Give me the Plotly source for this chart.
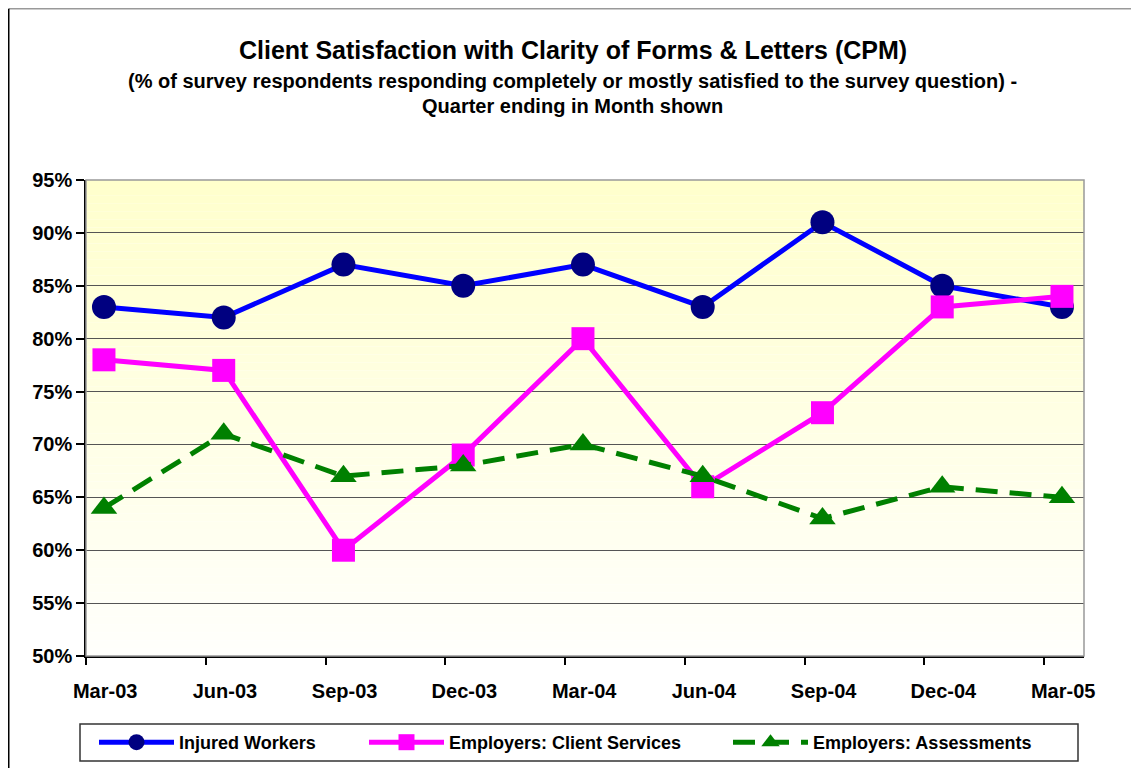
import plotly.graph_objects as go

categories = ["Mar-03", "Jun-03", "Sep-03", "Dec-03", "Mar-04", "Jun-04", "Sep-04", "Dec-04", "Mar-05"]
injured_workers = [83, 82, 87, 85, 87, 83, 91, 85, 83]
client_services = [78, 77, 60, 69, 80, 66, 73, 83, 84]
assessments = [64, 71, 67, 68, 70, 67, 63, 66, 65]
y_ticks = [50, 55, 60, 65, 70, 75, 80, 85, 90, 95]

FONT = "Liberation Sans, Arial, sans-serif"
idx = list(range(len(categories)))
xpos = [i + 0.15 for i in idx]

# figure geometry (page has an 8px body margin)
W, H = 1131, 760
ML, MR, MT, MB = 78, 55, 172, 112
PW, PH = W - ML - MR, H - MT - MB


def px(fx):
    return (fx - ML) / PW


def py(fy):
    return (H - MB - fy) / PH


fig = go.Figure()
fig.add_trace(go.Scatter(
    x=xpos, y=injured_workers, name="Injured Workers", mode="lines+markers",
    line=dict(color="#0000FF", width=5),
    marker=dict(symbol="circle", size=24, color="#000080"),
    legend="legend",
))
fig.add_trace(go.Scatter(
    x=xpos, y=client_services, name="Employers: Client Services", mode="lines+markers",
    line=dict(color="#FF00FF", width=5),
    marker=dict(symbol="square", size=23, color="#FF00FF"),
    legend="legend2",
))
fig.add_trace(go.Scatter(
    x=xpos, y=assessments, name="Employers: Assessments", mode="lines+markers",
    line=dict(color="#008000", width=5, dash="22px,12px"),
    marker=dict(symbol="triangle-up", size=23, color="#008000"),
    legend="legend3",
))

shapes = []
N = 60
top = (255, 255, 204)
bot = (255, 255, 252)
for k in range(N):
    t = (k + 0.5) / N
    c = tuple(round(top[j] + (bot[j] - top[j]) * t) for j in range(3))
    shapes.append(dict(type="rect", xref="x domain", yref="y domain",
                       x0=0, x1=1, y0=1 - (k + 1) / N, y1=1 - k / N,
                       fillcolor="rgb(%d,%d,%d)" % c, line=dict(width=0), layer="below"))
shapes.append(dict(type="rect", xref="x domain", yref="y domain", x0=0, x1=1, y0=0, y1=1,
                   line=dict(color="#999999", width=1.5), layer="above"))
# outer chart border
shapes.append(dict(type="line", xref="paper", yref="paper", x0=px(0.75), x1=px(1130), y0=py(0.75), y1=py(0.75),
                   line=dict(color="#999999", width=1.5)))
shapes.append(dict(type="line", xref="paper", yref="paper", x0=px(0.75), x1=px(0.75), y0=py(0.75), y1=py(H),
                   line=dict(color="black", width=1.5)))
shapes.append(dict(type="line", xref="paper", yref="paper", x0=px(1130), x1=px(1130), y0=py(0), y1=py(H),
                   line=dict(color="black", width=2)))
# legend box
shapes.append(dict(type="rect", xref="paper", yref="paper", x0=px(72), x1=px(1070), y0=py(753), y1=py(716),
                   line=dict(color="#333333", width=1.5), fillcolor="white", layer="above"))

tx = px(564.5)
annotations = [
    dict(text="<b>Client Satisfaction with Clarity of Forms & Letters (CPM)</b>",
         xref="paper", yref="paper", x=tx, y=py(42), yanchor="middle",
         showarrow=False, font=dict(size=25, family=FONT, color="black")),
    dict(text="<b>(% of survey respondents responding completely or mostly satisfied to the survey question) -</b>",
         xref="paper", yref="paper", x=tx, y=py(73), yanchor="middle",
         showarrow=False, font=dict(size=20, family=FONT, color="black")),
    dict(text="<b>Quarter ending in Month shown</b>",
         xref="paper", yref="paper", x=tx, y=py(98), yanchor="middle",
         showarrow=False, font=dict(size=20, family=FONT, color="black")),
]

leg_common = dict(orientation="h", yanchor="middle", y=py(734.5), xanchor="left",
                  bgcolor="rgba(0,0,0,0)", borderwidth=0,
                  font=dict(size=18, family=FONT, color="black"), itemwidth=75)

fig.update_layout(
    width=W, height=H,
    margin=dict(l=ML, r=MR, t=MT, b=MB, autoexpand=False),
    paper_bgcolor="white", plot_bgcolor="white",
    showlegend=True,
    legend=dict(x=px(86), **leg_common),
    legend2=dict(x=px(356), **leg_common),
    legend3=dict(x=px(720), **leg_common),
    shapes=shapes, annotations=annotations,
    font=dict(family=FONT, color="black"),
)
for t in fig.data:
    t.name = "<b>%s</b>" % t.name
fig.update_xaxes(
    range=[0, 8.334], tickvals=[i + 0.16 for i in idx], ticktext=["<b>%s</b>" % c for c in categories],
    ticks="", showgrid=False, zeroline=False,
    showline=True, linecolor="black", linewidth=1.5,
    tickfont=dict(size=20, family=FONT, color="black"),
    ticklabelstandoff=16,
    minor=dict(tickvals=idx, ticks="outside", ticklen=7, tickcolor="black", tickwidth=1.5, showgrid=False),
)
fig.update_yaxes(
    range=[50, 95], tickvals=y_ticks, ticktext=["<b>%d%%</b>" % v for v in y_ticks],
    ticks="outside", ticklen=8, tickcolor="black", tickwidth=1.5,
    showgrid=True, gridcolor="#555555", gridwidth=1, zeroline=False,
    showline=True, linecolor="black", linewidth=1.5,
    tickfont=dict(size=20, family=FONT, color="black"),
)

fig.write_html("out.html")
